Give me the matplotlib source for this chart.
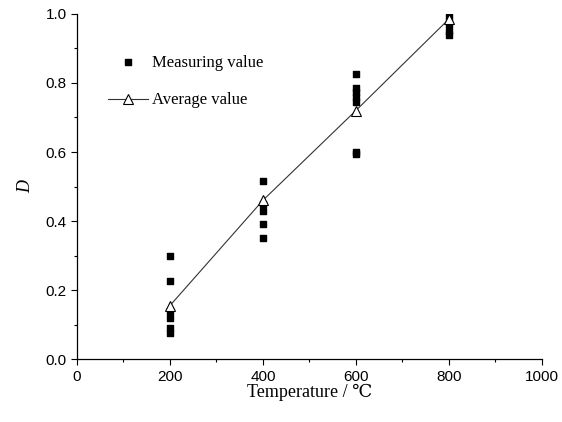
import matplotlib
matplotlib.use("Agg")
import matplotlib.pyplot as plt
from matplotlib.ticker import MultipleLocator

# --- data ---
meas_x = [200, 200, 200, 200, 200, 200,
          400, 400, 400, 400, 400,
          600, 600, 600, 600, 600, 600, 600,
          800, 800, 800, 800]
meas_y = [0.30, 0.225, 0.14, 0.12, 0.09, 0.075,
          0.515, 0.45, 0.43, 0.39, 0.35,
          0.825, 0.785, 0.775, 0.76, 0.745, 0.60, 0.595,
          0.99, 0.97, 0.95, 0.94]
avg_x = [200, 400, 600, 800]
avg_y = [0.155, 0.46, 0.72, 0.985]

serif = ["Liberation Serif", "DejaVu Serif"]
sans = ["Liberation Sans", "DejaVu Sans"]

fig = plt.figure(figsize=(5.62, 4.22), dpi=100)
ax = fig.add_axes([0.137, 0.149, 0.827, 0.818])

ax.plot(avg_x, avg_y, color="#333333", lw=0.8, marker="^", ms=7,
        mfc="white", mec="black", mew=0.8, label="Average value", zorder=3)
ax.scatter(meas_x, meas_y, marker="s", s=20, color="black",
           label="Measuring value", zorder=2)

ax.set_xlim(0, 1000)
ax.set_ylim(0, 1.0)
ax.xaxis.set_major_locator(MultipleLocator(200))
ax.xaxis.set_minor_locator(MultipleLocator(100))
ax.yaxis.set_major_locator(MultipleLocator(0.2))
ax.yaxis.set_minor_locator(MultipleLocator(0.1))
ax.yaxis.set_major_formatter(matplotlib.ticker.FormatStrFormatter("%.1f"))

for s in ["top", "right"]:
    ax.spines[s].set_visible(False)
for s in ["left", "bottom"]:
    ax.spines[s].set_linewidth(0.9)

ax.tick_params(which="major", direction="out", length=4, width=0.8)
ax.tick_params(which="minor", direction="out", length=2.5, width=0.8)
for lab in ax.get_xticklabels() + ax.get_yticklabels():
    lab.set_family(sans)
    lab.set_fontsize(11)

ax.set_xlabel("Temperature / ℃", family=serif, fontsize=13, labelpad=0)
ax.set_ylabel("D", family=serif, style="italic", fontsize=13, labelpad=8)

handles, labels = ax.get_legend_handles_labels()
leg = ax.legend(handles[::-1], labels[::-1], loc="upper left",
                bbox_to_anchor=(0.034, 0.925), frameon=False,
                prop={"family": serif, "size": 12},
                handlelength=2.4, labelspacing=1.3, handletextpad=0.25,
                scatterpoints=1)

fig.savefig("out.png", dpi=100)
